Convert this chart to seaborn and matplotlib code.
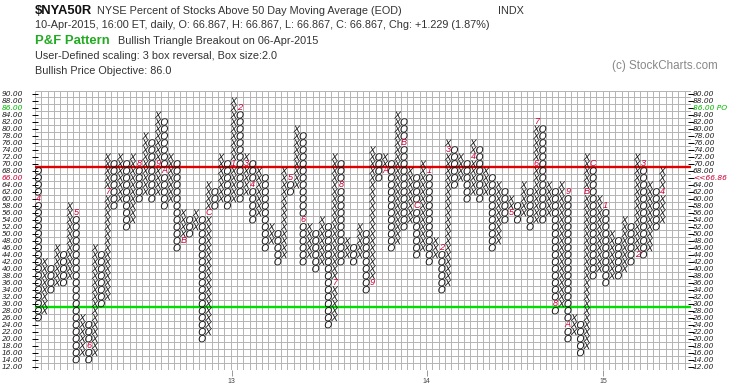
import numpy as np
import pandas as pd
import matplotlib
matplotlib.use('Agg')
import matplotlib.pyplot as plt
import matplotlib.transforms as mtransforms
import seaborn as sns

# ---- P&F columns, left to right (first column is O, then alternating) ----
col_kind = "OX" * 50
col_low = [26, 28, 34, 36, 36, 38, 14, 16, 14, 16,
           30, 32, 58, 60, 52, 54, 60, 62, 60, 62,
           58, 60, 46, 48, 50, 52, 20, 22, 58, 60,
           58, 60, 60, 62, 54, 56, 46, 48, 42, 44,
           62, 64, 42, 44, 40, 42, 24, 26, 42, 44,
           42, 44, 34, 36, 66, 68, 46, 48, 52, 54,
           44, 46, 42, 44, 34, 36, 64, 66, 60, 62,
           60, 62, 46, 48, 54, 56, 54, 56, 52, 54,
           54, 56, 28, 30, 20, 22, 16, 18, 38, 40,
           36, 38, 38, 40, 42, 44, 44, 46, 52, 54]
col_high = [68, 42, 40, 46, 44, 58, 56, 26, 24, 46,
            44, 72, 70, 72, 70, 72, 70, 78, 76, 84,
            82, 72, 70, 56, 54, 56, 54, 64, 62, 72,
            70, 88, 86, 72, 70, 68, 66, 52, 50, 68,
            66, 80, 78, 52, 50, 54, 52, 72, 70, 48,
            46, 52, 50, 74, 72, 72, 70, 84, 82, 68,
            66, 70, 68, 48, 46, 76, 74, 72, 70, 76,
            74, 68, 66, 64, 62, 60, 58, 64, 62, 82,
            80, 64, 62, 64, 62, 26, 24, 72, 70, 60,
            58, 50, 48, 54, 52, 72, 70, 64, 62, 68]

# month markers (column, box, label)
month_col = [0, 6, 8, 11, 16, 19, 20, 23, 27, 31, 32, 33, 34, 40, 42, 47, 48, 53,
             55, 58, 60, 62, 64, 65, 69, 75, 79, 79, 82, 84, 84, 87, 88, 90, 95, 96, 99]
month_box = [60, 56, 18, 62, 70, 70, 68, 48, 56, 70, 86, 70, 64, 66, 54, 36, 64, 36,
             68, 76, 58, 68, 46, 74, 72, 56, 70, 82, 30, 62, 24, 62, 70, 58, 44, 70, 62]
month_lab = ['4', '5', '6', '7', '8', '9', 'A', 'B', 'C', '1', '2', '3', '4', '5', '6', '7', '8', '9',
             'A', 'B', 'C', '1', '2', '3', '4', '5', '6', '7', '8', '9', 'A', 'B', 'C', '1', '2', '3', '4']

year_cols = [30.7, 61.6, 89.6]
year_labels = ['13', '14', '15']

price_ticks = list(range(12, 91, 2))
red_level = 69
green_level = 29

# ---- build box table ----
marked = set(zip(month_col, month_box))
rows = []
for i, (k, lo, hi) in enumerate(zip(col_kind, col_low, col_high)):
    for v in range(lo, hi + 1, 2):
        if (i, v) not in marked:
            rows.append((i, v, k))
boxes = pd.DataFrame(rows, columns=['col', 'price', 'mark'])

sns.set_theme(style='white')
plt.rcParams['font.family'] = ['Liberation Sans', 'DejaVu Sans']
plt.rcParams['mathtext.fontset'] = 'custom'
plt.rcParams['mathtext.it'] = 'Liberation Sans:italic'
plt.rcParams['mathtext.rm'] = 'Liberation Sans'

W, H = 745, 391
fig = plt.figure(figsize=(W / 100, H / 100), dpi=100)
fig.patch.set_facecolor('white')
x0, x1, y0, y1 = 35.15, 690.9, 90.5, 370.1
ax = fig.add_axes([x0 / W, 1 - y1 / H, (x1 - x0) / W, (y1 - y0) / H])

sns.scatterplot(data=boxes, x='col', y='price', style='mark',
                markers={'X': '$X$', 'O': '$O$'}, color='#111111', s=27,
                linewidth=0, legend=False, ax=ax, zorder=4)

for c, v, lab in zip(month_col, month_box, month_lab):
    ax.text(c, v, lab, ha='center', va='center', color='#cc0033',
            fontsize=6.6, style='italic', zorder=5)

ax.axhline(red_level, color='#e00000', lw=1.7, zorder=3)
ax.axhline(green_level, color='#00dd00', lw=1.7, zorder=3)

ax.set_xlim(-0.5, 103.5)
ax.set_ylim(11, 91)
ax.set_xlabel('')
ax.set_ylabel('')
ax.set_xticks(np.arange(-0.5, 104, 1), minor=True)
ax.set_yticks(np.arange(11, 92, 2), minor=True)
ax.grid(which='minor', color='#b4b4b4', lw=0.7)
ax.grid(which='major', visible=False)
ax.set_axisbelow(True)
for s in ax.spines.values():
    s.set_visible(False)

ax.set_yticks(price_ticks)
ax.set_yticklabels([])
ax.tick_params(axis='y', which='major', left=True, right=True, direction='inout',
               length=4, width=0.7, color='black')
ax.set_xticks(year_cols)
ax.set_xticklabels(year_labels)
ax.tick_params(axis='x', which='major', bottom=True, direction='out', length=4,
               width=0.6, color='#888888', labelsize=5, pad=1.5, labelcolor='#444444')
ax.tick_params(which='minor', length=0)

# price labels on both sides
lt = mtransforms.blended_transform_factory(fig.transFigure, ax.transData)
for v in price_ticks:
    lcol, rtxt, rcol = '#222222', f'{v:.2f}', '#222222'
    if v == 86:
        lcol, rtxt, rcol = '#00bb00', '86.00 PO', '#00bb00'
    if v == 66:
        lcol, rtxt, rcol = '#cc0033', '<<66.86', '#cc0033'
    fig.text(1.5 / W, v, f'{v:.2f}', transform=lt, ha='left', va='center',
             fontsize=5.4, family='DejaVu Sans', style='oblique', color=lcol)
    fig.text(693 / W, v, rtxt, transform=lt, ha='left', va='center',
             fontsize=5.4, family='DejaVu Sans', style='oblique', color=rcol)

# header
def fy(py):
    return 1 - py / H

fig.text(35 / W, fy(11), '$NYA50R', fontsize=9.4, weight='bold', va='center', color='#111111')
fig.text(97 / W, fy(11.5), 'NYSE Percent of Stocks Above 50 Day Moving Average (EOD)',
         fontsize=7.8, va='center', color='#333333')
fig.text(498 / W, fy(11.5), 'INDX', fontsize=7.8, va='center', color='#333333')
fig.text(35 / W, fy(25), '10-Apr-2015, 16:00 ET, daily, O: 66.867, H: 66.867, L: 66.867, '
         'C: 66.867, Chg: +1.229 (1.87%)', fontsize=7.8, va='center', color='#333333')
fig.text(35 / W, fy(40.5), 'P&F Pattern', fontsize=9.4, weight='bold', va='center', color='#22aa22')
fig.text(118 / W, fy(40.5), 'Bullish Triangle Breakout on 06-Apr-2015', fontsize=7.8,
         va='center', color='#333333')
fig.text(35 / W, fy(56), 'User-Defined scaling: 3 box reversal, Box size:2.0', fontsize=7.8,
         va='center', color='#333333')
fig.text(35 / W, fy(71), 'Bullish Price Objective: 86.0', fontsize=7.8, va='center', color='#333333')
fig.text(718 / W, fy(66), '(c) StockCharts.com', fontsize=8.4, ha='right', va='center',
         color='#888888')

fig.savefig('out.png', dpi=100)
